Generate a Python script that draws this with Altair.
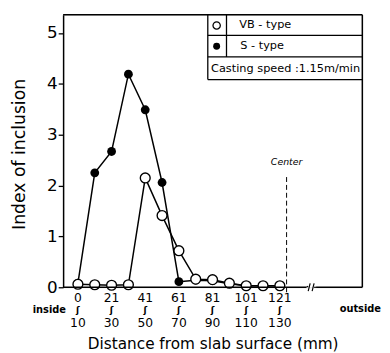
import altair as alt
import pandas as pd

# Data (bin upper bound in mm)
x_mm = [10, 20, 30, 40, 50, 60, 70, 80, 90, 100, 110, 120, 130]
vb_type = [0.06, 0.05, 0.04, 0.05, 2.15, 1.41, 0.72, 0.16, 0.15, 0.08, 0.03, 0.03, 0.03]
s_type = [0.08, 2.25, 2.67, 4.19, 3.49, 2.06, 0.11, 0.14, 0.13, 0.07, 0.03, 0.03, 0.03]
tick_values = [10, 30, 50, 70, 90, 110, 130]
tick_top = ["0", "21", "41", "61", "81", "101", "121"]
tick_mid = ["ʃ"] * 7
tick_bottom = ["10", "30", "50", "70", "90", "110", "130"]
y_ticks = [0, 1, 2, 3, 4, 5]
center_pos = [134]

W, H = 304, 277
FONT = "DejaVu Sans"

df = pd.DataFrame({"x": x_mm, "vb": vb_type, "s": s_type})
tdf = pd.DataFrame({"x": tick_values, "top": tick_top, "mid": tick_mid, "bottom": tick_bottom})

xscale = alt.Scale(domain=[1.2, 179], nice=False, zero=False)
yscale = alt.Scale(domain=[0, 5.36], nice=False)

xaxis = alt.Axis(
    values=tick_values, domain=False, ticks=False, grid=False, labels=False,
    title="Distance from slab surface (mm)", titleFont=FONT, titleFontSize=15.5,
    titleFontWeight="normal", titleY=57, titleBaseline="middle", titleColor="black",
)
yaxis = alt.Axis(
    values=y_ticks, grid=False, domainColor="black", domainWidth=1.5, tickColor="black",
    tickSize=5, tickWidth=1.3, labelFontSize=17, labelFont=FONT, labelColor="black", labelPadding=1,
    title=None,
)

base = alt.Chart(df)
line_s = base.mark_line(color="black", strokeWidth=1.5).encode(
    x=alt.X("x:Q", scale=xscale, axis=xaxis),
    y=alt.Y("s:Q", scale=yscale, axis=yaxis),
)
line_vb = base.mark_line(color="black", strokeWidth=1.5).encode(
    x=alt.X("x:Q", scale=xscale), y=alt.Y("vb:Q", scale=yscale))
pts_s = base.mark_point(shape="circle", filled=True, color="black", size=80, opacity=1).encode(
    x=alt.X("x:Q", scale=xscale), y=alt.Y("s:Q", scale=yscale))
pts_vb = base.mark_point(shape="circle", filled=True, fill="white", stroke="black",
                         strokeWidth=1.4, size=100, opacity=1).encode(
    x=alt.X("x:Q", scale=xscale), y=alt.Y("vb:Q", scale=yscale))

# Two-line tick labels with a small squiggle between
tick_base = alt.Chart(tdf)
lab_top = tick_base.mark_text(fontSize=12.5, font=FONT, color="black", baseline="middle").encode(
    x=alt.X("x:Q", scale=xscale), y=alt.value(288), text="top:N")
lab_mid = tick_base.mark_text(fontSize=9, font=FONT, color="black", baseline="middle",
                              fontWeight="bold").encode(
    x=alt.X("x:Q", scale=xscale), y=alt.value(300), text="mid:N")
lab_bot = tick_base.mark_text(fontSize=12.5, font=FONT, color="black", baseline="middle").encode(
    x=alt.X("x:Q", scale=xscale), y=alt.value(313), text="bottom:N")

# Frame (top, right, bottom with break)
def prule(x1, y1, x2, y2, w=1.5):
    return alt.Chart(pd.DataFrame({"a": [0]})).mark_rule(color="black", strokeWidth=w).encode(
        x=alt.value(x1), y=alt.value(y1), x2=alt.value(x2), y2=alt.value(y2))

frame = [
    prule(0, 0, W, 0),
    prule(W, 0, W, H),
    prule(0, H, 247, H),
    prule(257, H, W, H),
    prule(247, H, 249, H - 1, 1.2),
    prule(249, H + 4, 251, H - 4, 1.2),
    prule(253, H + 4, 255, H - 4, 1.2),
    prule(255, H, 257, H, 1.2),
    # legend box
    prule(147, 0, 147, 66, 1.3),
    prule(147, 21, W, 21, 1.3),
    prule(147, 43, W, 43, 1.3),
    prule(147, 66, W, 66, 1.5),
    prule(166, 0, 166, 43, 1.3),
]

def ptext(txt, x, y, size=12, align="left", style="normal", weight="normal", angle=0):
    return alt.Chart(pd.DataFrame({"t": [txt]})).mark_text(
        align=align, baseline="middle", fontSize=size, font=FONT, color="black",
        fontStyle=style, fontWeight=weight, angle=angle).encode(
        x=alt.value(x), y=alt.value(y), text="t:N")

legend_syms = [
    alt.Chart(pd.DataFrame({"a": [0]})).mark_point(shape="circle", filled=True, fill="white",
        stroke="black", strokeWidth=1.3, size=55, opacity=1).encode(x=alt.value(156), y=alt.value(11)),
    alt.Chart(pd.DataFrame({"a": [0]})).mark_point(shape="circle", filled=True, color="black",
        size=50, opacity=1).encode(x=alt.value(156), y=alt.value(32)),
]
texts = [
    ptext("VB - type", 179, 11, 11.5),
    ptext("S - type", 180, 32, 11.5),
    ptext("Casting speed :1.15m/min", 226, 55, 11.5, align="center"),
    ptext("inside", -14, 300, 10, align="center", weight="bold"),
    ptext("outside", 323, 299, 10, align="right", weight="bold"),
    ptext("Index of inclusion", -44, 142, 17.5, align="center", angle=270),
]

center_df = pd.DataFrame({"c": center_pos, "lab": ["Center"]})
center_line = alt.Chart(center_df).mark_rule(color="black", strokeWidth=1, strokeDash=[5, 3]).encode(
    x=alt.X("c:Q", scale=xscale), y=alt.value(165), y2=alt.value(283))
center_text = alt.Chart(center_df).mark_text(fontSize=9.5, font=FONT, fontStyle="italic",
                                             color="black", baseline="middle").encode(
    x=alt.X("c:Q", scale=xscale), y=alt.value(150), text="lab:N")

chart = alt.layer(
    line_s, line_vb, center_line, center_text, pts_s, pts_vb, *frame, *legend_syms,
    lab_top, lab_mid, lab_bot, *texts
).properties(
    width=W, height=H,
    autosize=alt.AutoSizeParams(type="none"),
    padding={"left": 56, "top": 4, "right": 20, "bottom": 64},
).configure_view(stroke=None).configure(background="white")

chart.save("out.html", embed_options={"renderer": "svg", "actions": False})
